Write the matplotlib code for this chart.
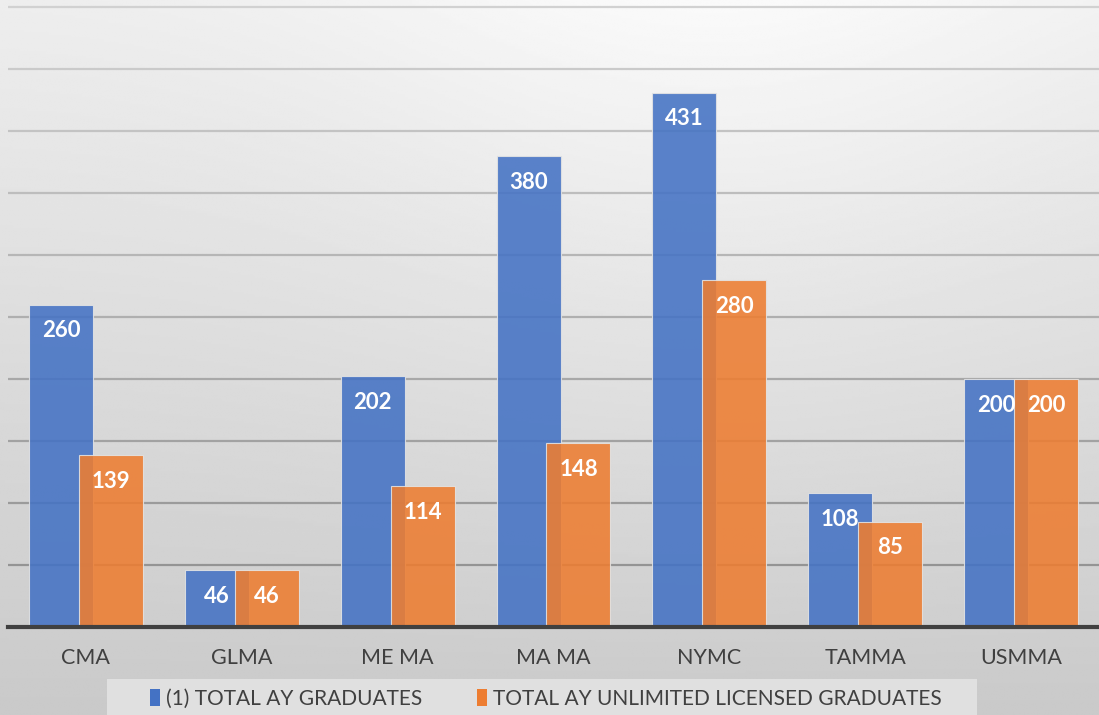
import numpy as np
import matplotlib.pyplot as plt
from matplotlib.patches import Patch, Rectangle

# data
academies = ['CMA', 'GLMA', 'ME MA', 'MA MA', 'NYMC', 'TAMMA', 'USMMA']
total_grads = [260, 46, 202, 380, 431, 108, 200]
licensed_grads = [139, 46, 114, 148, 280, 85, 200]
series_names = ['(1) TOTAL AY GRADUATES', 'TOTAL AY UNLIMITED LICENSED GRADUATES']

blue = '#4472C4'
orange = '#ED7D31'

plt.rcParams['font.family'] = ['Lato', 'DejaVu Sans']

fig = plt.figure(figsize=(10.99, 7.15), dpi=100)

# soft gray background, lighter towards the top centre-right
bg = fig.add_axes([0, 0, 1, 1], zorder=-10)
gx, gy = np.meshgrid(np.linspace(0, 1, 300), np.linspace(0, 1, 300))
shade = 0.79 + 0.14 * gy + 0.05 * np.exp(-((gx - 0.65) / 0.35) ** 2) * gy
bg.imshow(shade, cmap='gray', vmin=0, vmax=1, origin='lower',
          extent=[0, 1, 0, 1], aspect='auto')
bg.axis('off')

ax = fig.add_axes([8 / 1099, 88 / 715, 1091 / 1099, 627 / 715])
ax.patch.set_alpha(0)

# gridlines fade out towards the top
for lvl in range(50, 501, 50):
    g = 0.58 + 0.24 * (lvl - 50) / 450
    ax.axhline(lvl, color=(g, g, g), linewidth=1.6, zorder=1)

x = np.arange(len(academies))
w = 0.41
off = 0.16
b1 = ax.bar(x - off, total_grads, w, color=blue, alpha=0.88,
            edgecolor='#e4e4e4', linewidth=0.8, zorder=3)
b2 = ax.bar(x + off, licensed_grads, w, color=orange, alpha=0.88,
            edgecolor='#e4e4e4', linewidth=0.8, zorder=4)

for bars in (b1, b2):
    for r in bars:
        ax.annotate(f'{int(r.get_height())}',
                    (r.get_x() + r.get_width() / 2, r.get_height()),
                    xytext=(0, -19), textcoords='offset points',
                    ha='center', va='center', color='white',
                    fontsize=16, fontweight='bold', zorder=6)

ax.set_xlim(-0.5, 6.5)
ax.set_ylim(0, 505.6)
ax.set_yticks([])
ax.set_xticks(x)
ax.set_xticklabels(academies, fontsize=15.5, color='#404040')
ax.tick_params(axis='x', length=0, pad=15)
for s in ['top', 'right', 'left']:
    ax.spines[s].set_visible(False)
ax.spines['bottom'].set_color('#404040')
ax.spines['bottom'].set_linewidth(3)
ax.spines['bottom'].set_zorder(5)

# legend strip
fig.patches.append(Rectangle((107 / 1099, 0), 870 / 1099, 36 / 715,
                             transform=fig.transFigure, facecolor='#e0e0e0',
                             edgecolor='none', zorder=0))
handles = [Patch(facecolor=blue), Patch(facecolor=orange)]
fig.legend(handles, series_names, loc='center', bbox_to_anchor=(546 / 1099, 16 / 715),
           ncol=2, frameon=False, fontsize=15, handlelength=0.5, handleheight=0.85,
           handletextpad=0.3, columnspacing=2.6, labelcolor='#404040')

fig.savefig('out.png', dpi=100)
